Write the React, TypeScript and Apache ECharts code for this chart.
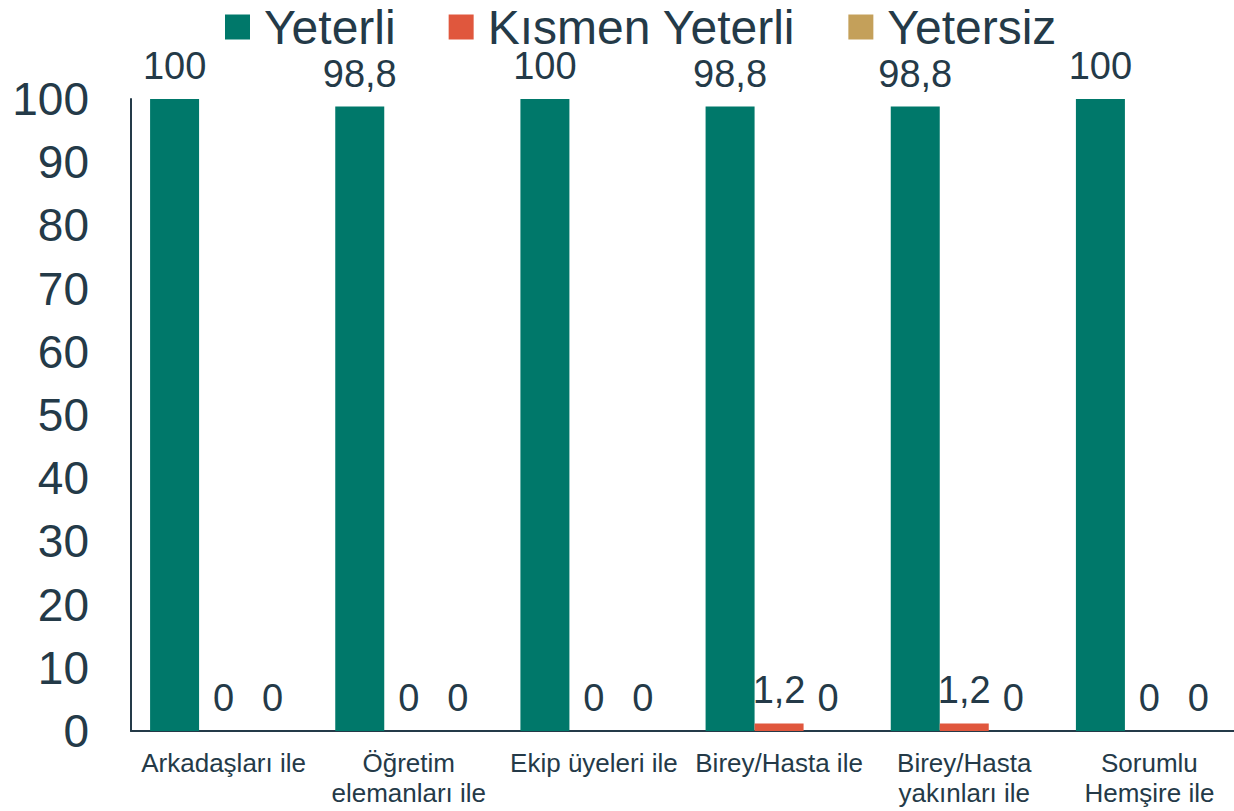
import React, { useEffect, useRef } from "react";
import * as echarts from "echarts";

const categories = [
  "Arkadaşları ile",
  "Öğretim\nelemanları ile",
  "Ekip üyeleri ile",
  "Birey/Hasta ile",
  "Birey/Hasta\nyakınları ile",
  "Sorumlu\nHemşire ile",
];
const seriesNames = ["Yeterli", "Kısmen Yeterli", "Yetersiz"];
const yeterli = [100, 98.8, 100, 98.8, 98.8, 100];
const kismenYeterli = [0, 0, 0, 1.2, 1.2, 0];
const yetersiz = [0, 0, 0, 0, 0, 0];
const colors = ["#00786A", "#E0573D", "#C4A05A"];

const TEXT = "#243A48";
const FONT = "Arial, 'Liberation Sans', sans-serif";

export default function App() {
  const ref = useRef<HTMLDivElement>(null);
  useEffect(() => {
    if (!ref.current) return;
    const chart = echarts.init(ref.current, null, { renderer: "svg" });
    const values = [yeterli, kismenYeterli, yetersiz];
    chart.setOption({
      animation: false,
      textStyle: { fontFamily: FONT },
      legend: {
        left: 225,
        top: 3,
        padding: 0,
        itemWidth: 25,
        itemHeight: 25,
        itemGap: 53,
        icon: "rect",
        data: seriesNames,
        textStyle: {
          fontSize: 48,
          color: TEXT,
          fontFamily: FONT,
          padding: [0, 0, 0, 9],
          lineHeight: 40,
        },
      },
      grid: {
        left: 131,
        width: 1111,
        top: 99,
        bottom: 80,
        containLabel: false,
        outerBoundsMode: "none",
      },
      xAxis: {
        type: "category",
        data: categories,
        axisLine: { show: true, lineStyle: { color: TEXT, width: 2 } },
        axisTick: { show: false },
        axisLabel: {
          color: TEXT,
          fontSize: 26,
          lineHeight: 30,
          margin: 17,
          interval: 0,
          fontFamily: FONT,
        },
      },
      yAxis: {
        type: "value",
        min: 0,
        max: 100,
        interval: 10,
        axisLine: { show: true, lineStyle: { color: TEXT, width: 2 } },
        axisTick: { show: false },
        splitLine: { show: false },
        axisLabel: { color: TEXT, fontSize: 46, margin: 42, fontFamily: FONT },
      },
      series: seriesNames.map((name, i) => ({
        name,
        type: "bar",
        data: values[i],
        barWidth: 49,
        barGap: "0%",
        itemStyle: { color: colors[i] },
        label: {
          show: true,
          position: "top",
          distance: 18,
          color: TEXT,
          fontSize: 38,
          lineHeight: 30,
          fontFamily: FONT,
          formatter: (p: any) => String(p.value).replace(".", ","),
        },
      })),
    });
    return () => chart.dispose();
  }, []);
  return (
    <div
      ref={ref}
      style={{ position: "absolute", left: 0, top: 0, width: 1234, height: 811, background: "#fff" }}
    />
  );
}
